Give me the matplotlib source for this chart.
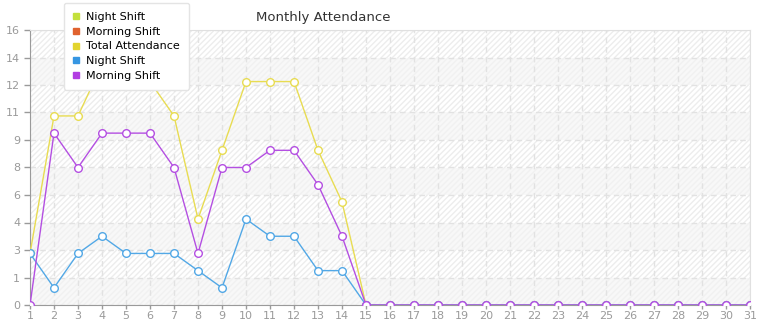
import math
import matplotlib
matplotlib.use('Agg')
import matplotlib.pyplot as plt
import matplotlib.ticker as ticker
from matplotlib.lines import Line2D

days = list(range(1, 32))
night_shift = [3, 1, 3, 4, 3, 3, 3, 2, 1, 5, 4, 4, 2, 2] + [0] * 17
morning_shift = [0, 10, 8, 10, 10, 10, 8, 3, 8, 8, 9, 9, 7, 4] + [0] * 17
total_attendance = [3, 11, 11, 14, 13, 13, 11, 5, 9, 13, 13, 13, 9, 6] + [0] * 17
legend_labels = ['Night Shift', 'Morning Shift', 'Total Attendance', 'Night Shift', 'Morning Shift']
legend_colors = ['#c3e03c', '#e0622e', '#e2d42e', '#3696e2', '#b23ee2']

plt.rcParams['font.family'] = 'DejaVu Sans'

fig = plt.figure(figsize=(7.65, 3.2), dpi=100)
ax = fig.add_axes([30 / 765, 15 / 320, 720 / 765, 275 / 320])

ymax = 16
step = 1.6
ax.set_xlim(1, 31)
ax.set_ylim(0, ymax)

# striped background bands
n_bands = int(round(ymax / step))
for i in range(n_bands):
    lo, hi = i * step, (i + 1) * step
    if i % 2 == 1:
        ax.axhspan(lo, hi, facecolor='white', edgecolor='#ededed', hatch='//////', lw=0, zorder=0)
    else:
        ax.axhspan(lo, hi, facecolor='#f8f8f8', edgecolor='#f1f1f1', hatch='//////', lw=0, zorder=0)

ax.yaxis.set_major_locator(ticker.MultipleLocator(step))
ax.yaxis.set_major_formatter(ticker.FuncFormatter(lambda v, p: '%d' % math.floor(v + 1e-6)))
ax.set_xticks(days)
ax.grid(True, color='#e2e2e2', linestyle=(0, (4, 3)), lw=1, zorder=1)

mk = dict(marker='o', markersize=5.5, markerfacecolor='white', markeredgewidth=1, lw=1)
ax.plot(days, total_attendance, color='#e8dc52', zorder=3, **mk)
ax.plot(days, night_shift, color='#52a8e6', zorder=4, **mk)
ax.plot(days, morning_shift, color='#b44fe2', zorder=5, **mk)

for s in ['top', 'right']:
    ax.spines[s].set_color('#e0e0e0')
for s in ['left', 'bottom']:
    ax.spines[s].set_color('#9a9a9a')
ax.tick_params(colors='#9a9a9a', labelsize=8, length=3, width=1, pad=1)
ax.tick_params(axis='y', pad=3, length=4)

fig.text(323 / 765, 1 - 17 / 320, 'Monthly Attendance', ha='center', va='center', fontsize=9.5, color='#333333')

handles = [Line2D([], [], marker='s', linestyle='none', markersize=5, color=c) for c in legend_colors]
leg = fig.legend(handles, legend_labels, loc='upper left', bbox_to_anchor=(64 / 765, 0.99),
                 fontsize=8, frameon=True, fancybox=True, framealpha=1, edgecolor='#e4e4e4',
                 handlelength=0.6, handletextpad=0.6, labelspacing=0.42, borderpad=0.8,
                 borderaxespad=0)
leg.get_frame().set_linewidth(1)
leg.set_zorder(10)

fig.savefig('out.png', dpi=100)
